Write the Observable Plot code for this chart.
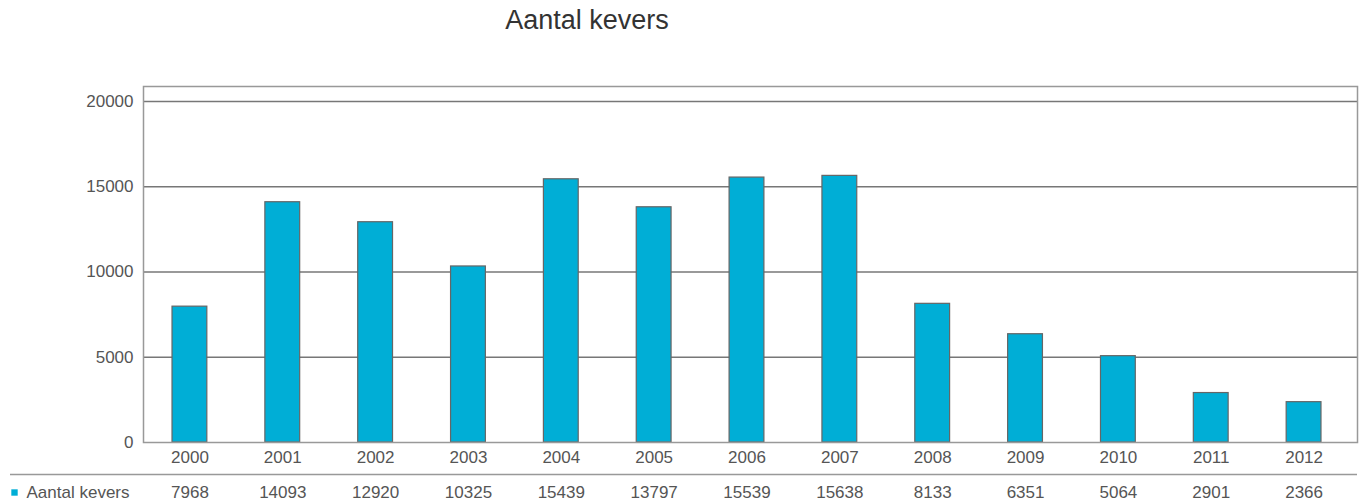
<!DOCTYPE html>
<html>
<head>
<meta charset="utf-8">
<script src="https://cdn.jsdelivr.net/npm/d3@7"></script>
<script src="https://cdn.jsdelivr.net/npm/@observablehq/plot@0.6"></script>
<style>
  html, body { margin: 0; padding: 0; background: #fff; }
  #wrap { position: relative; width: 1363px; height: 502px; font-family: "Liberation Sans", Arial, sans-serif; }
  #title { position: absolute; left: 0; top: 5px; width: 1174px; text-align: center; font-size: 27px; color: #333; }
  #chart { position: absolute; left: 0; top: 0; }
</style>
</head>
<body>
<div id="wrap">
  <div id="chart"></div>
  <div id="title">Aantal kevers</div>
</div>
<script>
// Number of beetles counted per year
const years = ["2000","2001","2002","2003","2004","2005","2006","2007","2008","2009","2010","2011","2012"];
const counts = [7968, 14093, 12920, 10325, 15439, 13797, 15539, 15638, 8133, 6351, 5064, 2901, 2366];
const yTicks = [0, 5000, 10000, 15000, 20000];
const seriesName = "Aantal kevers";

const data = years.map((year, i) => ({year, count: counts[i]}));

const barColor = "#00aed6";
const textColor = "#555";
const fs = 17;

const chart = Plot.plot({
  width: 1363,
  height: 502,
  marginLeft: 143,
  marginRight: 13,
  marginTop: 86,
  marginBottom: 60,
  style: {fontFamily: "'Liberation Sans', Arial, sans-serif", fontSize: fs + "px", color: textColor, background: "#fff"},
  x: {domain: years, paddingInner: 0.625, paddingOuter: 0.3125, round: false, label: null},
  y: {domain: [0, 20880], label: null},
  marks: [
    // horizontal grid, running to the right edge of the frame
    Plot.ruleY(yTicks.filter(d => d > 0), {stroke: "#777", strokeWidth: 1.4, insetRight: -7}),
    Plot.barY(data, {x: "year", y: "count", fill: barColor, stroke: "#666", strokeWidth: 1.2}),
    Plot.frame({stroke: "#999", strokeWidth: 1.5, insetRight: -7}),
    Plot.axisY({ticks: yTicks, tickSize: 0, tickPadding: 10, tickFormat: d => String(d), fill: textColor, fontSize: fs}),
    Plot.axisX({tickSize: 0, tickPadding: 8, fill: textColor, fontSize: fs}),
    // data table below the axis
    Plot.ruleY([0], {dy: 32, insetLeft: -133, insetRight: -7, stroke: "#999", strokeWidth: 1.5}),
    Plot.text(data, {x: "year", text: d => String(d.count), frameAnchor: "bottom", lineAnchor: "middle", dy: 50, fill: textColor, fontSize: fs}),
    Plot.dot([seriesName], {frameAnchor: "bottom-left", dx: -129, dy: 50, symbol: "square", r: 3.6, fill: barColor}),
    Plot.text([seriesName], {frameAnchor: "bottom-left", lineAnchor: "middle", dx: -117, dy: 50, textAnchor: "start", fill: textColor, fontSize: fs})
  ]
});
document.getElementById("chart").appendChild(chart);
</script>
</body>
</html>
